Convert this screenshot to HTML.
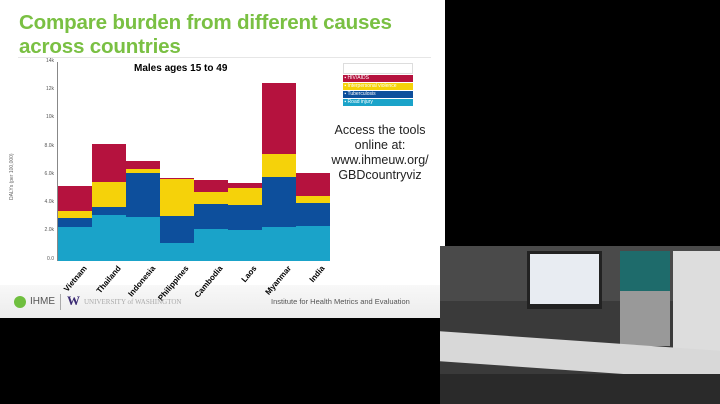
<!DOCTYPE html>
<html><head><style>
body{margin:0;width:720px;height:404px;background:#000;overflow:hidden;position:relative;font-family:"Liberation Sans",sans-serif}
.slide{position:absolute;left:0;top:0;width:445px;height:318px;background:#fff;overflow:hidden}
.t{position:absolute;left:19px;color:#7ac043;font-weight:bold;font-size:20.6px;letter-spacing:-0.2px}
.bar{position:absolute}
.yl{position:absolute;left:30px;width:24px;text-align:right;font-size:5px;color:#555}
.xl{position:absolute;font-size:8px;font-weight:bold;transform:rotate(-50deg);transform-origin:right top;white-space:nowrap;text-align:right}
</style></head><body>
<div class="slide">
<div class="t" style="top:11px">Compare burden from different causes</div>
<div class="t" style="top:35px">across countries</div>
<div style="position:absolute;left:18px;top:57px;width:413px;height:1px;background:#e6e6e6"></div>
<div style="position:absolute;left:0;top:285px;width:445px;height:33px;background:linear-gradient(#f8f8f8,#ececec)"></div>
<div style="position:absolute;left:57px;top:62px;width:1px;height:199px;background:#888"></div>
<div class="yl" style="top:58px">14k</div><div class="yl" style="top:86px">12k</div><div class="yl" style="top:114px">10k</div><div class="yl" style="top:143px">8.0k</div><div class="yl" style="top:171px">6.0k</div><div class="yl" style="top:199px">4.0k</div><div class="yl" style="top:227px">2.0k</div><div class="yl" style="top:256px">0.0</div>
<div style="position:absolute;left:9px;top:200px;font-size:5px;color:#666;transform:rotate(-90deg);transform-origin:left top;white-space:nowrap">DALYs (per 100,000)</div>
<div style="position:absolute;left:134px;top:63px;font-size:10px;font-weight:bold">Males ages 15 to 49</div>
<div id="bars"></div>
<div style="position:absolute;left:343px;top:63px;width:70px;height:11px;border:1px solid #ddd;box-sizing:border-box"></div>
<div style="position:absolute;left:343px;top:75px;width:70px;height:7px;background:#b5123e;font-size:5px;color:#fff">&nbsp;▪ HIV/AIDS</div>
<div style="position:absolute;left:343px;top:83px;width:70px;height:7px;background:#f5d20a;font-size:5px;color:#fff">&nbsp;▪ Interpersonal violence</div>
<div style="position:absolute;left:343px;top:91px;width:70px;height:7px;background:#0d4f9c;font-size:5px;color:#fff">&nbsp;▪ Tuberculosis</div>
<div style="position:absolute;left:343px;top:99px;width:70px;height:7px;background:#1aa3c9;font-size:5px;color:#fff">&nbsp;▪ Road injury</div>
<div style="position:absolute;left:320px;top:123px;width:120px;text-align:center;font-size:12.5px;line-height:15px;color:#222">Access the tools<br>online at:<br>www.ihmeuw.org/<br>GBDcountryviz</div>
<div style="position:absolute;left:14px;top:296px;width:12px;height:12px;border-radius:50%;background:#6fbf3f"></div>
<div style="position:absolute;left:30px;top:296px;font-size:10px;color:#555">IHME</div>
<div style="position:absolute;left:60px;top:294px;width:1px;height:16px;background:#aaa"></div>
<div style="position:absolute;left:67px;top:293px;font-size:13px;font-weight:bold;color:#3b2b73;font-family:'Liberation Serif',serif">W</div>
<div style="position:absolute;left:84px;top:298px;font-size:7px;color:#aaa;font-family:'Liberation Serif',serif">UNIVERSITY of WASHINGTON</div>
<div style="position:absolute;left:271px;top:297px;font-size:7.5px;color:#555">Institute for Health Metrics and Evaluation</div>
</div>
<div style="position:absolute;left:440px;top:246px;width:280px;height:158px;background:#3a3a3a">
<div style="position:absolute;left:0;top:0;width:280px;height:55px;background:#4a4a4a"></div>
<div style="position:absolute;left:87px;top:5px;width:75px;height:58px;background:#222"></div>
<div style="position:absolute;left:90px;top:8px;width:69px;height:50px;background:#e8ecf2"></div>
<div style="position:absolute;left:180px;top:5px;width:50px;height:40px;background:#1e6b6b"></div>
<div style="position:absolute;left:180px;top:45px;width:50px;height:55px;background:#999"></div>
<div style="position:absolute;left:233px;top:5px;width:47px;height:100px;background:#ddd"></div>
<div style="position:absolute;left:0;top:95px;width:280px;height:30px;background:#d8d8d8;transform:skewY(4deg)"></div>
<div style="position:absolute;left:0;top:128px;width:280px;height:30px;background:#2a2a2a"></div>
</div>
<script>
var xs=[58,92,126,160,194,228,262,296],base=260.7;
var d=[[226.7,217.7,211.3,186],[215,206.7,181.7,144.3],[217.3,172.7,169,161],[242.7,216.3,179.3,178.3],[229,204,192.3,180],[230,205,187.7,183.3],[226.7,176.7,154,83.3],[225.7,203.3,195.7,173]];
var c=['#1aa3c9','#0d4f9c','#f5d20a','#b5123e'];
var names=['Vietnam','Thailand','Indonesia','Philippines','Cambodia','Laos','Myanmar','India'];
var h='';
for(var i=0;i<8;i++){var prev=base;for(var j=0;j<4;j++){var t=d[i][j];h+='<div class="bar" style="left:'+xs[i]+'px;top:'+t+'px;width:34px;height:'+(prev-t)+'px;background:'+c[j]+'"></div>';prev=t;}
h+='<div class="xl" style="right:'+(445-xs[i]-24)+'px;top:264px">'+names[i]+'</div>';}
document.getElementById('bars').innerHTML=h;
</script>
</body></html>
